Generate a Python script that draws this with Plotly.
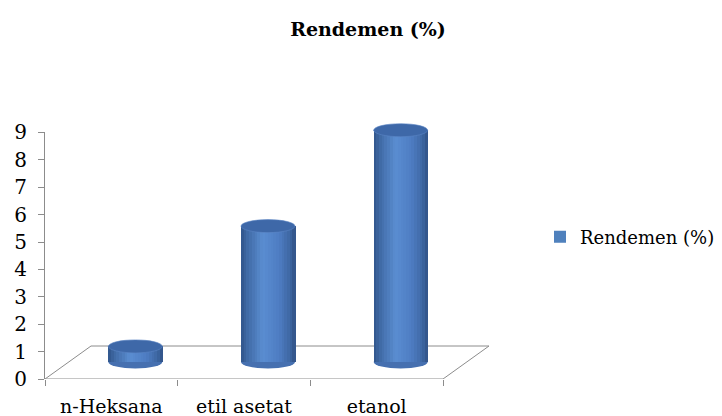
import plotly.graph_objects as go

# ---------------- data ----------------
categories = ["n-Heksana", "etil asetat", "etanol"]
rendemen = [0.57, 4.96, 8.46]
y_ticks = [0, 1, 2, 3, 4, 5, 6, 7, 8, 9]
series_name = "Rendemen (%)"
title_text = "Rendemen (%)"

# ---------------- styling / geometry ----------------
FONT = "DejaVu Serif"
W, H = 722, 416
left_px, right_px = 45, 489       # plot area (front axis starts at left_px)
bottom_px, top_px = 379, 110
y_unit = 27.4                      # px per value unit
x_unit = (443 - 45) / 3.0          # px per category
floor_dx, floor_dy = 46, 33        # full depth of the 3D floor (px)
bar_dx, bar_dy = 24, 17            # cylinders sit at mid depth (px)
bar_w = 54 / x_unit                # cylinder width in category units
ell = 6.5 / y_unit                 # half height of the cylinder ellipses

x_min = -0.5
x_max = x_min + (right_px - left_px) / x_unit
y_span = (bottom_px - top_px) / y_unit
y_max = max(y_ticks)

stops = [(0.0, (48, 84, 138)), (0.12, (64, 106, 165)), (0.40, (90, 141, 209)),
         (0.70, (78, 125, 195)), (0.90, (62, 103, 163)), (1.0, (48, 82, 134))]


def grad(t):
    for (t0, c0), (t1, c1) in zip(stops[:-1], stops[1:]):
        if t0 <= t <= t1:
            f = (t - t0) / (t1 - t0)
            return "rgb(%d,%d,%d)" % tuple(round(a + (b - a) * f) for a, b in zip(c0, c1))
    return "rgb(%d,%d,%d)" % stops[-1][1]


positions = list(range(len(categories)))
fig = go.Figure()

# category axis carrier (invisible)
fig.add_trace(go.Scatter(x=positions, y=[0] * len(categories), mode="markers",
                         marker=dict(opacity=0), hoverinfo="skip", showlegend=False,
                         xaxis="x", yaxis="y"))

# cylinder bodies: vertical strips with a shading gradient
N = 20
step = bar_w / N
for k in range(N):
    fig.add_trace(go.Bar(
        x=positions, y=rendemen, base=0,
        width=step * 1.25, offset=-bar_w / 2 + k * step,
        marker=dict(color=grad((k + 0.5) / N), line=dict(width=0)),
        xaxis="x2", yaxis="y2", showlegend=False, hoverinfo="skip"))

# legend entry
fig.add_trace(go.Bar(x=[None], y=[None], name=series_name,
                     marker=dict(color="#4F81BD", line=dict(width=0)),
                     xaxis="x2", yaxis="y2", showlegend=True))

shapes = []
# 3D floor
fc = "#8C8C8C"
fx, fy = floor_dx / x_unit, floor_dy / y_unit
x_front_end = x_min + len(categories)
for (xa, ya, xb, yb) in [(x_min, 0, x_front_end, 0),
                         (x_min, 0, x_min + fx, fy),
                         (x_min + fx, fy, x_front_end + fx, fy),
                         (x_front_end, 0, x_front_end + fx, fy)]:
    shapes.append(dict(type="line", xref="x", yref="y", x0=xa, y0=ya, x1=xb, y1=yb,
                       line=dict(color=fc, width=1), layer="below"))

# cylinder ends
for p, v in zip(positions, rendemen):
    shapes.append(dict(type="circle", xref="x2", yref="y2",
                       x0=p - bar_w / 2, x1=p + bar_w / 2, y0=-ell, y1=ell,
                       fillcolor="rgb(70,112,176)", line=dict(width=0), layer="below"))
    shapes.append(dict(type="circle", xref="x2", yref="y2",
                       x0=p - bar_w / 2, x1=p + bar_w / 2, y0=v - ell, y1=v + ell,
                       fillcolor="rgb(62,104,168)", line=dict(color="rgb(90,132,196)", width=0.6),
                       layer="above"))

fig.update_layout(
    width=W, height=H,
    margin=dict(l=left_px, r=W - right_px, t=top_px, b=H - bottom_px, pad=0, autoexpand=False),
    paper_bgcolor="white", plot_bgcolor="rgba(0,0,0,0)",
    barmode="overlay", bargap=0,
    font=dict(family=FONT, size=17, color="black"),
    title=dict(text="<b>%s</b>" % title_text, x=368 / W, xref="container", xanchor="center",
               y=1 - 29 / H, yref="container", yanchor="middle",
               font=dict(family=FONT, size=19, color="black")),
    xaxis=dict(domain=[0, 1], range=[x_min, x_max], type="linear", automargin=False,
               tickvals=positions, ticktext=categories, ticks="", showgrid=False,
               zeroline=False, showline=False, ticklabelstandoff=14,
               minor=dict(tickvals=[x_min + i for i in range(len(categories) + 1)],
                          ticks="outside", ticklen=6, tickcolor=fc, tickwidth=1, showgrid=False),
               tickfont=dict(family=FONT, size=19, color="black"), fixedrange=True),
    yaxis=dict(domain=[0, y_max / y_span], range=[0, y_max], tickvals=y_ticks, automargin=False,
               ticks="outside", ticklen=6, tickcolor=fc, showline=True, linecolor=fc,
               linewidth=1, showgrid=False, zeroline=False, anchor="x", ticklabelstandoff=7,
               tickfont=dict(family=FONT, size=20, color="black"), fixedrange=True),
    xaxis2=dict(domain=[0, 1], range=[x_min - bar_dx / x_unit, x_max - bar_dx / x_unit],
                visible=False, anchor="y2", type="linear", fixedrange=True),
    yaxis2=dict(domain=[0, 1], range=[-bar_dy / y_unit, y_span - bar_dy / y_unit],
                visible=False, anchor="x2", fixedrange=True),
    legend=dict(xref="container", yref="container", x=540 / W, y=1 - 237 / H,
                xanchor="left", yanchor="middle", bgcolor="rgba(0,0,0,0)",
                itemwidth=30,
                font=dict(family=FONT, size=18, color="black")),
    shapes=shapes,
    showlegend=True,
)

fig.write_html("out.html")
